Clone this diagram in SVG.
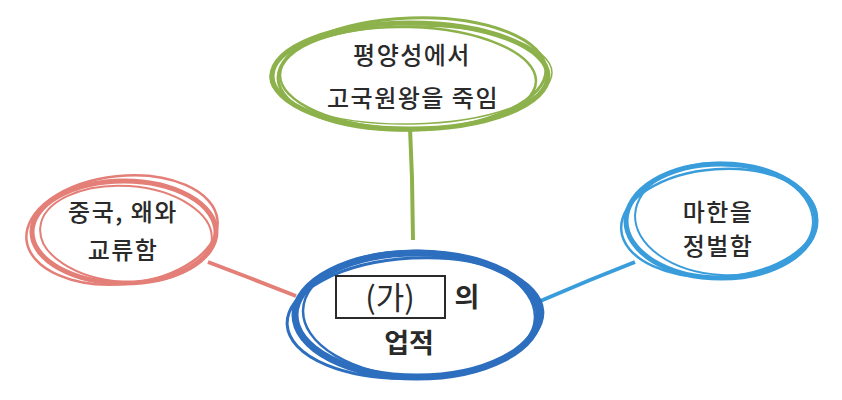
<svg xmlns="http://www.w3.org/2000/svg" width="842" height="400" viewBox="0 0 842 400">
<style>
.t{font-family:"Noto Sans CJK KR","Noto Sans",sans-serif;fill:#2a2a2a;text-anchor:middle}
.n{font-size:24px;letter-spacing:1.5px;font-weight:500}
.b{font-size:27px;font-weight:bold}
.g{fill:none;stroke:#8db24c}
.r{fill:none;stroke:#e47f78}
.bl{fill:none;stroke:#2d6fbe}
.lb{fill:none;stroke:#3a9ddb}
</style>
<rect width="842" height="400" fill="#fff"/>
<g id="connectors">
<path d="M410 128 L412 178 L413 240" class="g" stroke-width="4"/>
<path d="M208 262 L250 278 L296 296" class="r" stroke-width="4"/>
<path d="M635 262 L590 280 L538 302" class="lb" stroke-width="4"/>
</g>
<g id="node-top">
<ellipse cx="410" cy="76" rx="138" ry="53" class="g" stroke-width="5"/>
<ellipse cx="412" cy="74" rx="134" ry="56" class="g" stroke-width="3" transform="rotate(-2 412 74)"/>
<ellipse cx="408" cy="78" rx="128" ry="51" class="g" stroke-width="2.5" transform="rotate(1.5 408 78)"/>
<ellipse cx="411" cy="75" rx="141" ry="49" class="g" stroke-width="1.5" transform="rotate(-1 411 75)"/>
<text class="t n" x="412" y="64">평양성에서</text>
<text class="t n" x="413" y="107">고국원왕을 죽임</text>
</g>
<g id="node-left">
<ellipse cx="124" cy="232" rx="92" ry="51" class="r" stroke-width="5"/>
<ellipse cx="122" cy="230" rx="96" ry="54" class="r" stroke-width="2.5" transform="rotate(-6 122 230)"/>
<ellipse cx="126" cy="234" rx="86" ry="48" class="r" stroke-width="2" transform="rotate(4 126 234)"/>
<text class="t n" x="123" y="221">중국, 왜와</text>
<text class="t n" x="123" y="259">교류함</text>
</g>
<g id="node-right">
<ellipse cx="721" cy="221" rx="95" ry="57" class="lb" stroke-width="5"/>
<ellipse cx="719" cy="223" rx="98" ry="54" class="lb" stroke-width="2.5" transform="rotate(-4 719 223)"/>
<ellipse cx="724" cy="219" rx="89" ry="56" class="lb" stroke-width="2" transform="rotate(3 724 219)"/>
<text class="t n" x="718" y="221">마한을</text>
<text class="t n" x="718" y="255">정벌함</text>
</g>
<g id="node-center">
<ellipse cx="417" cy="315" rx="122" ry="62" class="bl" stroke-width="7"/>
<ellipse cx="415" cy="318" rx="128" ry="60" class="bl" stroke-width="3" transform="rotate(-3 415 318)"/>
<ellipse cx="419" cy="314" rx="116" ry="63" class="bl" stroke-width="2.5" transform="rotate(2 419 314)"/>
<rect x="336" y="276" width="109" height="42" fill="#fff" stroke="#2a2a2a" stroke-width="2"/>
<text class="t" x="390" y="309" font-size="31">(가)</text>
<text class="t b" x="467" y="307">의</text>
<text class="t b" x="409" y="353">업적</text>
</g>
</svg>
